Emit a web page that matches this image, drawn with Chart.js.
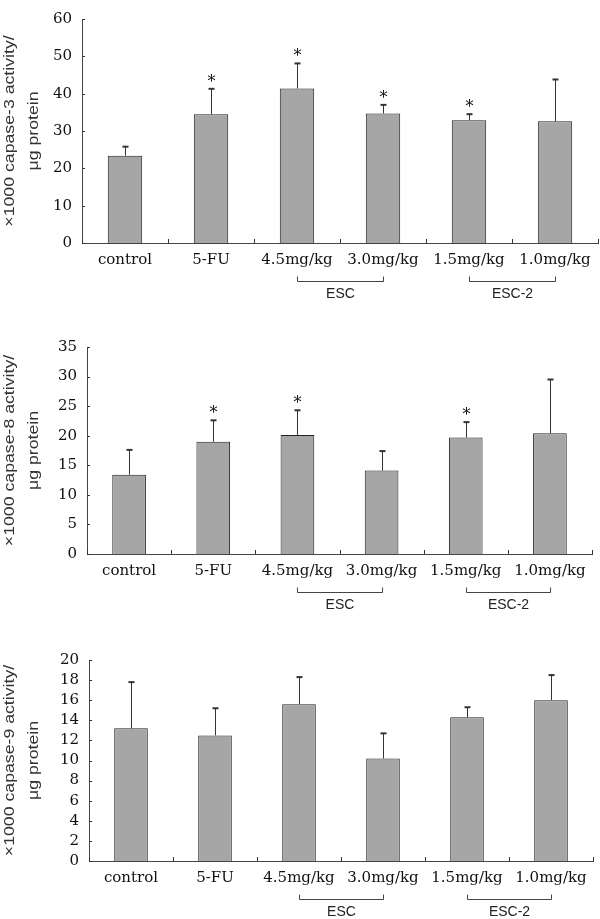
<!DOCTYPE html>
<html>
<head>
<meta charset="utf-8">
<script src="https://cdn.jsdelivr.net/npm/chart.js@4/dist/chart.umd.min.js"></script>
<style>
  html, body { margin: 0; padding: 0; background: #fff; }
  body { width: 600px; height: 919px; position: relative; overflow: hidden; }
  .panel { position: absolute; left: 0; width: 600px; }
</style>
</head>
<body>
<div class="panel" style="top:0px;height:305px"><canvas id="c3" width="600" height="305"></canvas></div>
<div class="panel" style="top:305px;height:310px"><canvas id="c8" width="600" height="310"></canvas></div>
<div class="panel" style="top:615px;height:304px"><canvas id="c9" width="600" height="304"></canvas></div>
<script>
// groups on the x axis
const categories = ['control', '5-FU', '4.5mg/kg', '3.0mg/kg', '1.5mg/kg', '1.0mg/kg'];
const groupLabels = ['ESC', 'ESC-2'];
const groupStart = [2, 4];
const groupEnd = [3, 5];

// caspase-3
const casp3Mean = [23.4, 34.5, 41.4, 34.7, 32.9, 32.6];
const casp3Sd = [2.4, 6.8, 6.7, 2.3, 1.6, 11.2];
const casp3Sig = [false, true, true, true, true, false];
const casp3Ticks = { max: 60, step: 10 };

// caspase-8
const casp8Mean = [13.4, 19.0, 20.1, 14.1, 19.7, 20.4];
const casp8Sd = [4.2, 3.6, 4.2, 3.3, 2.6, 9.1];
const casp8Sig = [false, true, true, false, true, false];
const casp8Ticks = { max: 35, step: 5 };

// caspase-9
const casp9Mean = [13.2, 12.5, 15.6, 10.2, 14.3, 16.0];
const casp9Sd = [4.6, 2.7, 2.7, 2.5, 1.0, 2.5];
const casp9Sig = [false, false, false, false, false, false];
const casp9Ticks = { max: 20, step: 2 };

const serif = 'DejaVu Serif';
const sans = 'Liberation Sans';

// draws error bars, asterisks, inward ticks, group brackets and the axis title
const extras = {
  id: 'extras',
  afterDatasetsDraw(chart, args, opts) {
    const ctx = chart.ctx;
    const area = chart.chartArea;
    const xs = chart.scales.x;
    const ys = chart.scales.y;
    const meta = chart.getDatasetMeta(0);
    const mean = chart.data.datasets[0].data;

    ctx.save();
    ctx.strokeStyle = '#333';
    ctx.fillStyle = '#111';

    // inward ticks on the y axis
    ctx.lineWidth = 1;
    ys.ticks.forEach(t => {
      const y = Math.round(ys.getPixelForValue(t.value)) + 0.5;
      ctx.beginPath();
      ctx.moveTo(area.left, y);
      ctx.lineTo(area.left + 3, y);
      ctx.stroke();
    });

    // ticks between categories on the x axis
    const n = mean.length;
    for (let i = 0; i <= n; i++) {
      let x;
      if (i === 0) x = area.left;
      else if (i === n) x = area.right;
      else x = (xs.getPixelForValue(i - 1) + xs.getPixelForValue(i)) / 2;
      x = Math.round(x) + 0.5;
      ctx.beginPath();
      ctx.moveTo(x, area.bottom);
      ctx.lineTo(x, area.bottom - 4);
      ctx.stroke();
    }

    // error bars (upper only) and significance marks
    meta.data.forEach((bar, i) => {
      const x = Math.round(bar.x) + 0.5;
      const yTop = ys.getPixelForValue(mean[i] + opts.sd[i]);
      ctx.lineWidth = 1;
      ctx.beginPath();
      ctx.moveTo(x, bar.y);
      ctx.lineTo(x, yTop);
      ctx.stroke();
      ctx.lineWidth = 2;
      ctx.beginPath();
      ctx.moveTo(x - 3, yTop);
      ctx.lineTo(x + 3, yTop);
      ctx.stroke();
      if (opts.sig[i]) {
        ctx.font = '16px "' + serif + '"';
        ctx.textAlign = 'center';
        ctx.textBaseline = 'alphabetic';
        ctx.fillText('*', x, yTop - 2);
      }
    });

    // brackets under the dose groups
    ctx.lineWidth = 1;
    const by = Math.round(area.bottom + 38) + 0.5;
    groupLabels.forEach((lab, g) => {
      const x1 = Math.round(xs.getPixelForValue(groupStart[g])) + 0.5;
      const x2 = Math.round(xs.getPixelForValue(groupEnd[g])) + 0.5;
      ctx.strokeStyle = '#444';
      ctx.beginPath();
      ctx.moveTo(x1, by - 5);
      ctx.lineTo(x1, by);
      ctx.lineTo(x2, by);
      ctx.lineTo(x2, by - 5);
      ctx.stroke();
      ctx.font = '14px "' + sans + '"';
      ctx.textAlign = 'center';
      ctx.textBaseline = 'middle';
      ctx.fillStyle = '#222';
      ctx.fillText(lab, (x1 + x2) / 2, by + 13);
    });

    // rotated two-line y title
    const cy = (area.top + area.bottom) / 2;
    ctx.font = '15px "' + sans + '"';
    ctx.fillStyle = '#333';
    ctx.textAlign = 'center';
    ctx.textBaseline = 'middle';
    opts.title.forEach((line, k) => {
      ctx.save();
      ctx.translate(opts.titleX[k], cy);
      ctx.rotate(-Math.PI / 2);
      ctx.scale(1.18, 1);
      ctx.fillText(line, 0, 0);
      ctx.restore();
    });

    ctx.restore();
  }
};

function makeChart(id, mean, sd, sig, tickSet, title, box) {
  const h = document.getElementById(id).height;
  return new Chart(document.getElementById(id), {
    type: 'bar',
    data: {
      labels: categories,
      datasets: [{
        data: mean,
        backgroundColor: '#a6a6a6',
        borderColor: '#222',
        borderWidth: 1,
        borderSkipped: 'bottom',
        barPercentage: 0.4,
        categoryPercentage: 1.0
      }]
    },
    options: {
      responsive: false,
      animation: false,
      devicePixelRatio: 1,
      layout: { padding: { left: 0, right: 600 - box.r, top: box.t, bottom: 0 } },
      plugins: {
        legend: { display: false },
        tooltip: { enabled: false },
        extras: { sd: sd, sig: sig, title: title, titleX: [10, 34] }
      },
      scales: {
        x: {
          grid: { display: false, drawTicks: false },
          border: { display: true, color: '#444', width: 1 },
          ticks: {
            color: '#111',
            font: { family: serif, size: 15 },
            padding: 8,
            maxRotation: 0,
            autoSkip: false
          },
          afterFit: s => { s.height = h - box.b; }
        },
        y: {
          min: 0,
          max: tickSet.max,
          grid: { display: false, drawTicks: false },
          border: { display: true, color: '#444', width: 1 },
          ticks: {
            stepSize: tickSet.step,
            autoSkip: false,
            color: '#111',
            font: { family: serif, size: 15 },
            padding: 10
          },
          afterFit: s => { s.width = box.l; }
        }
      }
    },
    plugins: [extras]
  });
}

makeChart('c3', casp3Mean, casp3Sd, casp3Sig, casp3Ticks,
  ['\u00d71000 capase-3 activity/', '\u03bcg protein'], { l: 82, t: 9, r: 598, b: 243 });
makeChart('c8', casp8Mean, casp8Sd, casp8Sig, casp8Ticks,
  ['\u00d71000 capase-8 activity/', '\u03bcg protein'], { l: 87, t: 42, r: 592, b: 249 });
makeChart('c9', casp9Mean, casp9Sd, casp9Sig, casp9Ticks,
  ['\u00d71000 capase-9 activity/', '\u03bcg protein'], { l: 89, t: 45, r: 593, b: 246 });
</script>
</body>
</html>
